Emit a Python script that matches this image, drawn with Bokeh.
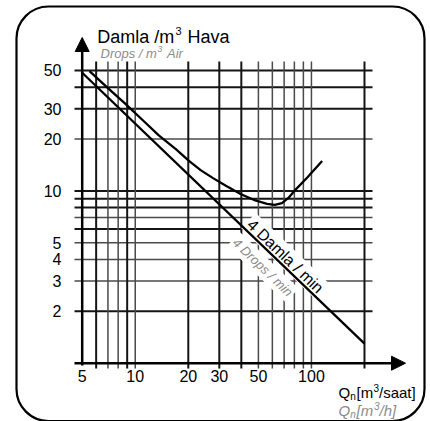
from math import log10
from bokeh.plotting import figure
from bokeh.models import Range1d, Arrow, NormalHead, BoxAnnotation, Label
from bokeh.core.properties import value
from bokeh.embed import file_html
from bokeh.resources import INLINE

# ---------------- data ----------------
x_grid_strong = [6, 9, 20, 30, 40, 200]
x_grid_weak = [7, 8, 10, 50, 60, 70, 80, 90, 100]
y_grid_strong = [2, 6, 8, 9, 10, 30, 40, 50]
y_grid_weak = [3, 4, 5, 7, 20]

x_tick_vals = [5, 10, 20, 30, 50, 100]
x_tick_labels = ["5", "10", "20", "30", "50", "100"]
y_tick_vals = [2, 3, 4, 5, 10, 20, 30, 50]
y_tick_labels = ["2", "3", "4", "5", "10", "20", "30", "50"]

# 4 drops / min line
line_x = [5, 200]
line_y = [48.5, 1.3]

# second (upper) curve
curve_x = [5.5, 7, 8.8, 11, 13.6, 17, 20.1, 23.5, 27.5, 32.5, 39.6, 48, 56, 62, 68, 74, 80, 95, 115]
curve_y = [49.5, 39.5, 32.0, 25.8, 21.0, 17.5, 15.0, 13.2, 11.9, 10.75, 9.6, 8.8, 8.4, 8.3, 8.5, 9.1, 10.0, 12.0, 14.9]

x_axis_at = 1
y_axis_at = 5

# ---------------- layout ----------------
W, H = 430, 421
X5_PX, X_PPD = 81.7, 176.2     # px of x=5, px per decade
Y1_PX, Y_PPD = 362.7, 172.3    # px of y=1, px per decade


def fx(px):
    return 10 ** (log10(5) + (px - X5_PX) / X_PPD)


def fy(py):
    return 10 ** ((Y1_PX - py) / Y_PPD)


FONT = "Liberation Sans"
GRAY = "#8c8c8c"

p = figure(width=W, height=H, x_axis_type="log", y_axis_type="log",
           x_range=Range1d(fx(0), fx(W)), y_range=Range1d(fy(H), fy(0)),
           x_axis_location=None, y_axis_location=None,
           toolbar_location=None, output_backend="svg", min_border=0)
p.outline_line_color = None
p.grid.visible = False
p.background_fill_color = "white"
p.border_fill_color = "white"

# grid lines
h_left, h_right = fx(74), fx(372)
v_bot, v_top = fy(368), fy(61)

for vals, col, lw in [(y_grid_strong, "#151515", 2.0), (y_grid_weak, "#4a4a4a", 1.5)]:
    p.segment(x0=[h_left] * len(vals), x1=[h_right] * len(vals), y0=vals, y1=vals,
              line_color=col, line_width=lw)
for vals, col, lw in [(x_grid_strong, "#151515", 2.0), (x_grid_weak, "#4a4a4a", 1.5)]:
    p.segment(x0=vals, x1=vals, y0=[v_bot] * len(vals), y1=[v_top] * len(vals),
              line_color=col, line_width=lw)

# axes with arrows
p.add_layout(Arrow(x_start=y_axis_at, y_start=fy(365), x_end=y_axis_at, y_end=fy(37),
                   line_width=2.5, line_color="black",
                   end=NormalHead(size=14, fill_color="black", line_color="black", line_width=1)))
p.add_layout(Arrow(x_start=fx(74), y_start=x_axis_at, x_end=fx(405), y_end=x_axis_at,
                   line_width=2.5, line_color="black",
                   end=NormalHead(size=14, fill_color="black", line_color="black", line_width=1)))

# rotated labels on the line
p.add_layout(Label(x=fx(285), y=fy(255.7), text="4 Damla / min", angle=-43.8, angle_units="deg",
                   text_align="center", text_baseline="middle", text_font=FONT,
                   text_font_size="16px", text_color="black",
                   background_fill_color="white", padding=2))
p.add_layout(Label(x=fx(262.3), y=fy(266.7), text="4 Drops / min", angle=-43.8, angle_units="deg",
                   text_align="center", text_baseline="middle", text_font=FONT,
                   text_font_size="13px", text_font_style="italic", text_color=GRAY,
                   background_fill_color="white", padding=2))

# curves
r1 = p.line(line_x, line_y, line_color="black", line_width=2.3)
r2 = p.line(curve_x, curve_y, line_color="black", line_width=2.3)
r1.level = "overlay"
r2.level = "overlay"

# tick labels
p.text(x=[fx(61)] * len(y_tick_vals), y=y_tick_vals, text=y_tick_labels,
       text_align="right", text_baseline="middle", text_font=value(FONT),
       text_font_size="16px", text_color="black")
p.text(x=x_tick_vals, y=[fy(369)] * len(x_tick_vals), text=x_tick_labels,
       text_align="center", text_baseline="top", text_font=value(FONT),
       text_font_size="16px", text_color="black")


def txt(px, py, s, size, color="black", style="normal"):
    p.text(x=[fx(px)], y=[fy(py)], text=[s], text_baseline="alphabetic", text_align="left",
           text_font=value(FONT), text_font_size=size, text_font_style=style, text_color=color)


# y axis title
txt(96.7, 36, "Damla /m", "18px")
txt(175, 30, "3", "11px")
txt(187, 36, "Hava", "18px")
txt(100, 53, "Drops / m", "13px", GRAY, "italic")
txt(157, 48.5, "3", "8.5px", GRAY, "italic")
txt(166.5, 53, "Air", "13px", GRAY, "italic")

# x axis title
txt(338, 392, "Q", "15px")
txt(349.7, 396, "n", "10px")
txt(356, 392, "[m", "15px")
txt(373, 387, "3", "10px")
txt(378.5, 392, "/saat]", "15px")
txt(338, 410, "Q", "15px", GRAY, "italic")
txt(349.7, 414, "n", "10px", GRAY, "italic")
txt(356, 410, "[m", "15px", GRAY, "italic")
txt(373.5, 405, "3", "10px", GRAY, "italic")
txt(379, 410, "/h]", "15px", GRAY, "italic")

# rounded frame
p.add_layout(BoxAnnotation(left=fx(16), right=fx(424), top=fy(6), bottom=fy(420.5),
                           fill_color=None, line_color="black", line_alpha=1.0,
                           line_width=2.2, border_radius=32))

open("out.html", "w").write(file_html(p, INLINE))
